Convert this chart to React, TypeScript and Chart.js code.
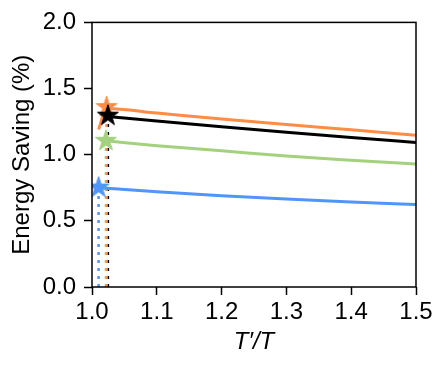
import React, { useEffect, useRef } from "react";
import { Chart, registerables } from "chart.js";

Chart.register(...registerables);

// ---- data ----
const xTicks = [1.0, 1.1, 1.2, 1.3, 1.4, 1.5];
const yTicks = [0.0, 0.5, 1.0, 1.5, 2.0];

const orangeX = [1.0102, 1.0225, 1.1, 1.2, 1.3, 1.4, 1.5];
const orangeY = [1.19, 1.35, 1.315, 1.27, 1.228, 1.188, 1.147];

const blackX = [1.0245, 1.1, 1.2, 1.3, 1.4, 1.5];
const blackY = [1.288, 1.255, 1.212, 1.17, 1.13, 1.092];

const greenX = [1.0215, 1.1, 1.2, 1.3, 1.4, 1.5];
const greenY = [1.105, 1.068, 1.03, 0.99, 0.958, 0.929];

const blueX = [1.0102, 1.1, 1.2, 1.3, 1.4, 1.5];
const blueY = [0.75, 0.72, 0.69, 0.665, 0.643, 0.623];

// optimum markers (stars) and their dotted drop lines
const starNames = ["orange", "black", "green", "blue"];
const starX = [1.0225, 1.0245, 1.0215, 1.0102];
const starY = [1.36, 1.295, 1.105, 0.752];

const COLORS: Record<string, string> = {
  orange: "#FF8C45",
  black: "#000000",
  green: "#A3D17E",
  blue: "#4F95FB",
};

const FONT = "'Liberation Sans', Arial, Helvetica, sans-serif";

function makeStar(color: string, R: number): HTMLCanvasElement {
  const size = Math.ceil(2 * R + 4);
  const c = document.createElement("canvas");
  c.width = size;
  c.height = size;
  const ctx = c.getContext("2d")!;
  const cx = size / 2;
  const cy = size / 2;
  const r = R * 0.382;
  ctx.beginPath();
  for (let i = 0; i < 10; i++) {
    const rad = i % 2 === 0 ? R : r;
    const a = -Math.PI / 2 + (i * Math.PI) / 5;
    const px = cx + rad * Math.cos(a);
    const py = cy + rad * Math.sin(a);
    if (i === 0) ctx.moveTo(px, py);
    else ctx.lineTo(px, py);
  }
  ctx.closePath();
  ctx.fillStyle = color;
  ctx.fill();
  ctx.lineWidth = 1;
  ctx.strokeStyle = color;
  ctx.stroke();
  return c;
}

const zip = (xs: number[], ys: number[]) => xs.map((x, i) => ({ x, y: ys[i] }));

const framePlugin = {
  id: "frame",
  afterDraw(chart: any) {
    const { ctx, chartArea } = chart;
    ctx.save();
    ctx.strokeStyle = "#000";
    ctx.lineWidth = 1.5;
    ctx.strokeRect(
      chartArea.left,
      chartArea.top,
      chartArea.right - chartArea.left,
      chartArea.bottom - chartArea.top
    );
    ctx.restore();
  },
};

export default function App() {
  const ref = useRef<HTMLCanvasElement | null>(null);

  useEffect(() => {
    document.body.style.margin = "0";
    const canvas = ref.current!;

    const curveOrder: Record<string, number> = { orange: 6, black: 5, green: 7, blue: 8 };
    const starOrder: Record<string, number> = { orange: 2, black: 0, green: 1, blue: 3 };

    const dotted = starNames.map((n, i) => ({
      type: "line" as const,
      data: [
        { x: starX[i], y: 0 },
        { x: starX[i], y: starY[i] },
      ],
      borderColor: COLORS[n],
      borderWidth: 2.5,
      borderDash: [3, 5],
      pointRadius: 0,
      fill: false,
      order: 20 + i,
    }));

    const curves = [
      ["orange", orangeX, orangeY],
      ["black", blackX, blackY],
      ["green", greenX, greenY],
      ["blue", blueX, blueY],
    ].map(([n, xs, ys]: any) => ({
      type: "line" as const,
      data: zip(xs, ys),
      borderColor: COLORS[n],
      borderWidth: 3,
      pointRadius: 0,
      fill: false,
      cubicInterpolationMode: "monotone" as const,
      order: curveOrder[n],
    }));

    const stars = starNames.map((n, i) => ({
      type: "line" as const,
      data: [{ x: starX[i], y: starY[i] }],
      showLine: false,
      borderColor: COLORS[n],
      backgroundColor: COLORS[n],
      pointStyle: makeStar(COLORS[n], 11),
      pointRadius: 11,
      order: starOrder[n],
    }));

    const chart = new Chart(canvas, {
      type: "line",
      data: { datasets: [...dotted, ...curves, ...stars] as any },
      options: {
        animation: false,
        responsive: false,
        devicePixelRatio: 1,
        layout: { padding: { left: 0, top: 21, right: 30, bottom: 0 } },
        plugins: {
          legend: { display: false },
          tooltip: { enabled: false },
        },
        scales: {
          x: {
            type: "linear",
            min: 1.0,
            max: 1.5,
            afterBuildTicks: (s: any) => {
              s.ticks = xTicks.map((v) => ({ value: v }));
            },
            afterFit: (s: any) => {
              s.height = 85;
            },
            border: { display: false },
            grid: {
              drawOnChartArea: false,
              drawTicks: true,
              tickLength: 8,
              tickWidth: 1.5,
              tickColor: "#000",
            },
            ticks: {
              color: "#000",
              padding: 3,
              maxRotation: 0,
              font: { family: FONT, size: 24 },
              callback: (v: any) => Number(v).toFixed(1),
            },
            title: {
              display: true,
              text: "T\u2032/T",
              color: "#000",
              font: { family: FONT, size: 24, style: "italic" },
              padding: { top: 0, bottom: 15 },
            },
          },
          y: {
            type: "linear",
            min: 0,
            max: 2,
            afterBuildTicks: (s: any) => {
              s.ticks = yTicks.map((v) => ({ value: v }));
            },
            afterFit: (s: any) => {
              s.width = 92;
            },
            border: { display: false },
            grid: {
              drawOnChartArea: false,
              drawTicks: true,
              tickLength: 8,
              tickWidth: 1.5,
              tickColor: "#000",
            },
            ticks: {
              color: "#000",
              padding: 8,
              font: { family: FONT, size: 24 },
              callback: (v: any) => Number(v).toFixed(1),
            },
            title: {
              display: true,
              text: "Energy Saving (%)",
              color: "#000",
              font: { family: FONT, size: 24 },
              padding: { top: 8, bottom: 0 },
            },
          },
        },
      },
      plugins: [framePlugin],
    });

    return () => chart.destroy();
  }, []);

  return (
    <div style={{ position: "absolute", left: 0, top: 0, width: 446, height: 372 }}>
      <canvas ref={ref} width={446} height={372} />
    </div>
  );
}
